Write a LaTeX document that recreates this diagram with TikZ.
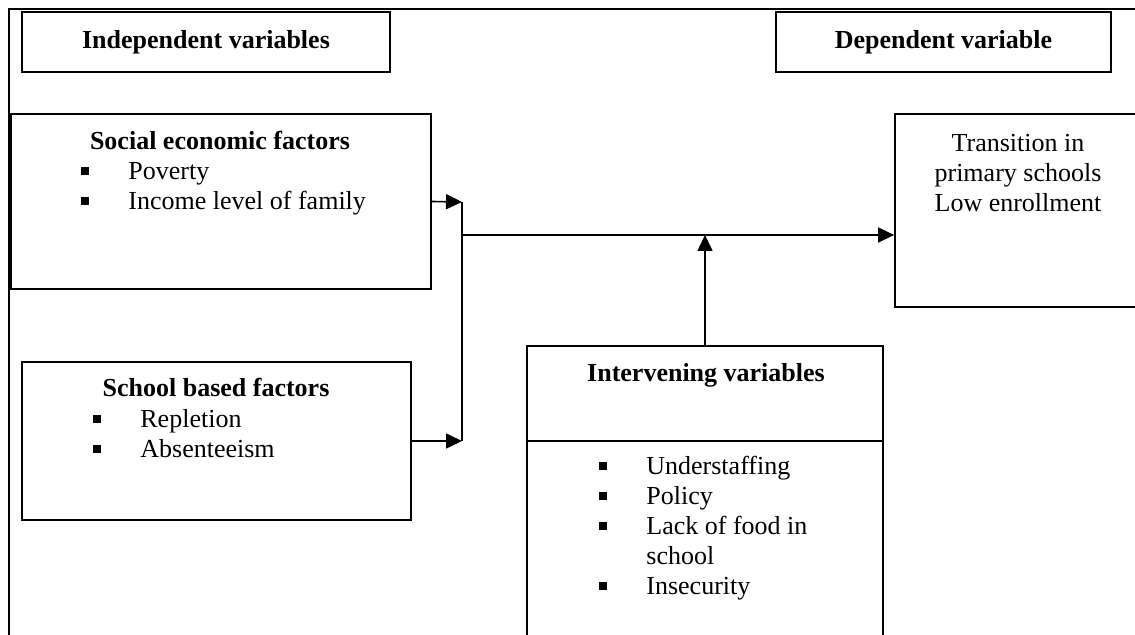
\documentclass[tikz,border=0pt]{standalone}
\usepackage{fontspec}
\setmainfont{Liberation Serif}
\usepackage{tikz}
\usetikzlibrary{arrows.meta, positioning, calc}
\newcommand{\figfont}{\fontsize{13}{15.6}\selectfont}
\newcommand{\sqbullet}{\makebox[23.5pt][l]{\rule[2.5pt]{4pt}{4pt}}}
\newcommand{\nobullet}{\hspace*{23.5pt}}
\tikzset{
  box/.style={rectangle, draw, line width=0.9pt, inner sep=0pt, font=\figfont\bfseries},
  title/.style={anchor=base, inner sep=0pt, font=\figfont\bfseries},
  item/.style={anchor=base west, inner sep=0pt, font=\figfont},
  plain/.style={anchor=base, inner sep=0pt, font=\figfont},
  arrow/.style={-{Triangle[length=8pt,width=7.5pt]}, line width=0.8pt},
  line/.style={line width=0.8pt}
}
\begin{document}
\begin{tikzpicture}[x=0.5pt, y=-0.5pt]
  \clip (0,0) rectangle (1135,635);
  % Outer frame
  \draw[line width=1pt] (1140,9) -- (9,9) -- (9,640);

  % Heading boxes
  \node[box, minimum width=184pt, minimum height=30pt] (ivbox) at (206,42) {Independent variables};
  \node[box, minimum width=167.5pt, minimum height=30pt] (dvbox) at (943.5,42) {Dependent variable};

  % Social economic factors
  \node[box, minimum width=210pt, minimum height=87.5pt] (soc) at (221,201.5) {};
  \node[title] (soctitle) at (220,150) {Social economic factors};
  \foreach \t [count=\i from 0] in {Poverty, Income level of family}
    \node[item] (soc\i) at (81,180+30*\i) {\sqbullet\t};

  % School based factors
  \node[box, minimum width=194.5pt, minimum height=79pt] (sch) at (216.5,441) {};
  \node[title] (schtitle) at (216,397) {School based factors};
  \foreach \t [count=\i from 0] in {Repletion, Absenteeism}
    \node[item] (sch\i) at (93,428+30*\i) {\sqbullet\t};

  % Dependent variable
  \node[box, minimum width=122.5pt, minimum height=96.5pt] (trans) at (1017.5,210.5) {};
  \foreach \t [count=\i from 0] in {Transition in, primary schools, Low enrollment}
    \node[plain] (trans\i) at (1018,152+30*\i) {\t};

  % Intervening variables
  \node[box, minimum width=178pt, minimum height=152pt] (int) at (705,498) {};
  \coordinate (intdiv) at (705,441);
  \draw[line] (int.west |- intdiv) -- (int.east |- intdiv);
  \node[title] (inttitle) at (706,382) {Intervening variables};
  \foreach \t [count=\i from 0] in {\sqbullet Understaffing, \sqbullet Policy,
      \sqbullet Lack of food in, \nobullet school, \sqbullet Insecurity}
    \node[item] (int\i) at (599,475+30*\i) {\t};

  % Connectors
  \coordinate (jtop) at (462,202);
  \coordinate (jbot) at (462,441);
  \coordinate (jmid) at (462,235);
  \draw[arrow] (soc.east) -- (jtop);
  \draw[arrow] (sch.east) -- (jbot);
  \draw[line] (jtop) -- (jbot);
  \draw[arrow] (jmid) -- (trans.west |- jmid);
  \draw[arrow] (int.north) -- (int.north |- jmid);
\end{tikzpicture}
\end{document}
